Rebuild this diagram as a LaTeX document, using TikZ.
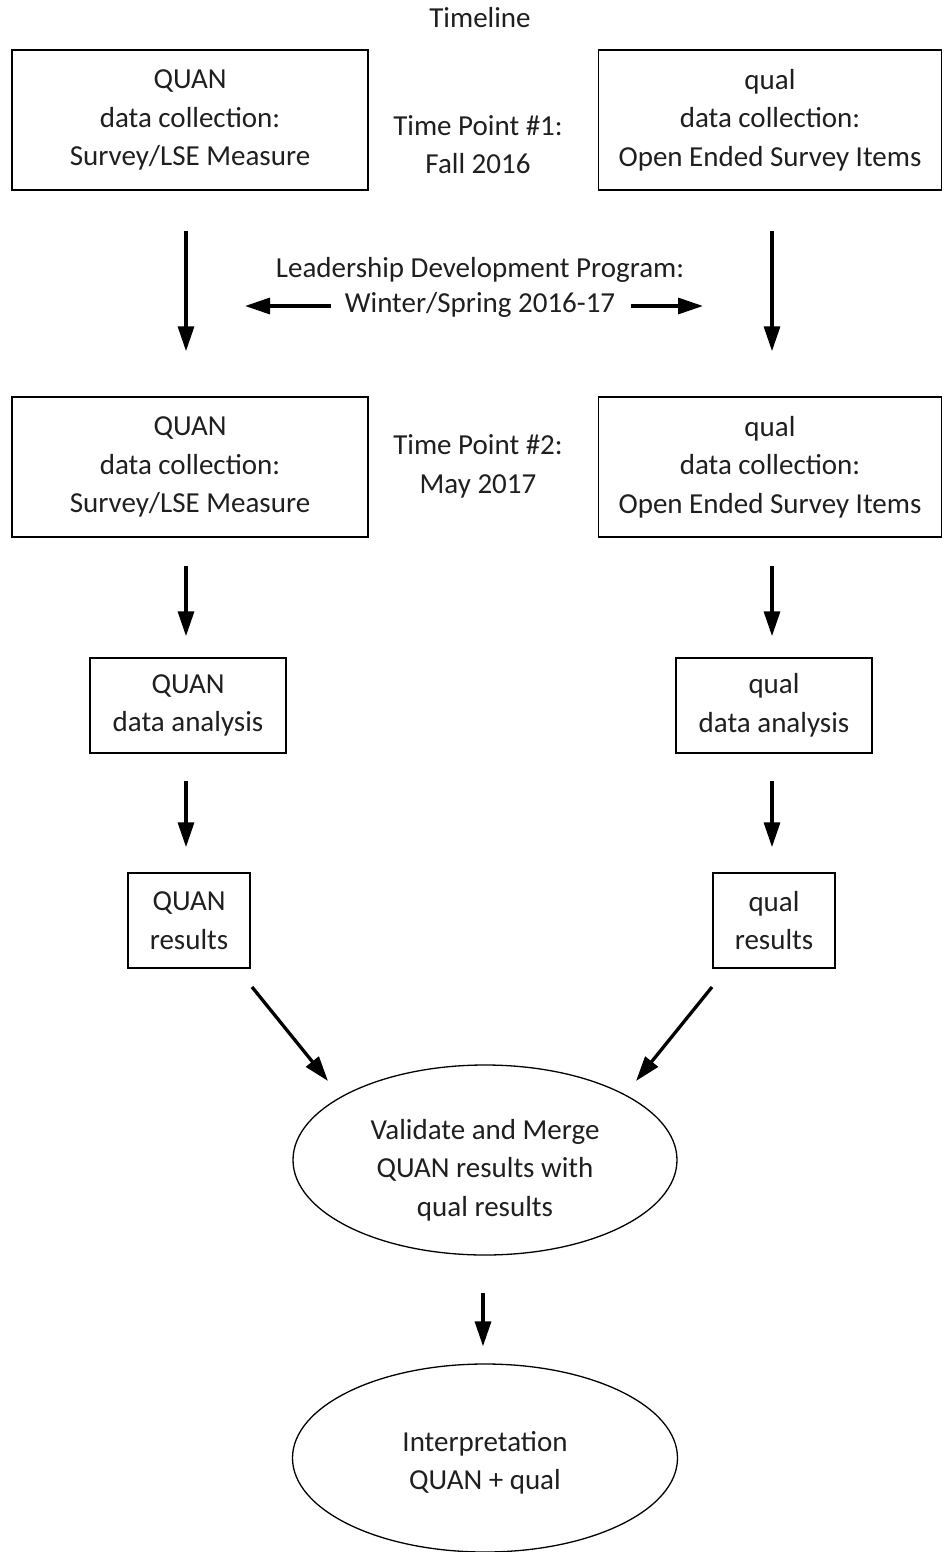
\documentclass[tikz,border=0pt]{standalone}
\usepackage{fontspec}
\setmainfont{Carlito}
\usetikzlibrary{arrows.meta,shapes.geometric}
\tikzset{
  txt/.style={font=\fontsize{29}{38.5}\selectfont, align=center, text=black!88, inner sep=0pt},
  box/.style={txt, draw, line width=1.5pt},
  oval/.style={draw, ellipse, line width=1.3pt, inner sep=0pt},
  arr/.style={line width=3.3pt, -{Triangle[length=25pt,width=16pt]}}
}
\begin{document}
\begin{tikzpicture}[x=1pt,y=-1pt]
\useasboundingbox (0,0) rectangle (943,1552);

\node[txt] (title) at (480,18) {Timeline};

% first round of data collection
\node[box, minimum width=356pt, minimum height=140pt] (quan1) at (190,120)
  {QUAN\\data collection:\\Survey/LSE Measure};
\node[box, minimum width=343pt, minimum height=140pt] (qual1) at (770,120)
  {qual\\data collection:\\Open Ended Survey Items};
\node[txt] (tp1) at (478,144.5) {Time Point \#1:\\Fall 2016};

% program between the two time points
\node[txt] (lead1) at (480,270) {Leadership Development Program:};
\node[txt] (lead2) at (480,305) {Winter/Spring 2016-17};
\coordinate (leadL) at (245,306);
\coordinate (leadR) at (703,306);
\draw[arr] ([xshift=-14pt]lead2.west|-leadL) -- (leadL);
\draw[arr] ([xshift=16pt]lead2.east|-leadR) -- (leadR);

% second round of data collection
\node[box, minimum width=356pt, minimum height=140pt] (quan2) at (190,467)
  {QUAN\\data collection:\\Survey/LSE Measure};
\node[box, minimum width=343pt, minimum height=140pt] (qual2) at (770,467)
  {qual\\data collection:\\Open Ended Survey Items};
\node[txt] (tp2) at (478,466.5) {Time Point \#2:\\May 2017};

% analysis and results
\node[box, minimum width=196pt, minimum height=95pt] (quanA) at (188,705.5)
  {QUAN\\data analysis};
\node[box, minimum width=196pt, minimum height=95pt] (qualA) at (774,705.5)
  {qual\\data analysis};
\node[box, minimum width=122pt, minimum height=95pt] (quanR) at (189,920.5)
  {QUAN\\results};
\node[box, minimum width=122pt, minimum height=95pt] (qualR) at (774,920.5)
  {qual\\results};

% merging and interpretation: outlines, then their text set a little low
\node[oval, minimum width=384pt, minimum height=190pt] (merge) at (485,1160) {};
\node[oval, minimum width=385pt, minimum height=188pt] (interp) at (485,1458) {};
\node[txt] (mergetxt) at ([yshift=-10pt]merge.center)
  {Validate and Merge\\QUAN results with\\qual results};
\node[txt] (interptxt) at ([yshift=-5pt]interp.center)
  {Interpretation\\QUAN + qual};

% vertical flow
\draw[arr, shorten <=40pt, shorten >=45pt] ([xshift=-4pt]quan1.south) -- ([xshift=-4pt]quan2.north);
\draw[arr, shorten <=40pt, shorten >=45pt] ([xshift=2pt]qual1.south) -- ([xshift=2pt]qual2.north);
\draw[arr, shorten <=28pt, shorten >=21pt] ([xshift=-4pt]quan2.south) -- ([xshift=-2pt]quanA.north);
\draw[arr, shorten <=28pt, shorten >=21pt] ([xshift=2pt]qual2.south) -- ([xshift=-2pt]qualA.north);
\draw[arr, shorten <=27pt, shorten >=25pt] ([xshift=-2pt]quanA.south) -- ([xshift=-3pt]quanR.north);
\draw[arr, shorten <=27pt, shorten >=25pt] ([xshift=-2pt]qualA.south) -- ([xshift=-2pt]qualR.north);

% results converge on the merge step
\coordinate (dl) at (252,987);
\coordinate (dlt) at (328,1081);
\coordinate (dr) at (712,987);
\coordinate (drt) at (636,1081);
\draw[arr] (dl) -- (dlt);
\draw[arr] (dr) -- (drt);

\draw[arr, shorten <=37pt, shorten >=17pt] ([xshift=-2pt]merge.south) -- ([xshift=-2pt]interp.north);
\end{tikzpicture}
\end{document}
